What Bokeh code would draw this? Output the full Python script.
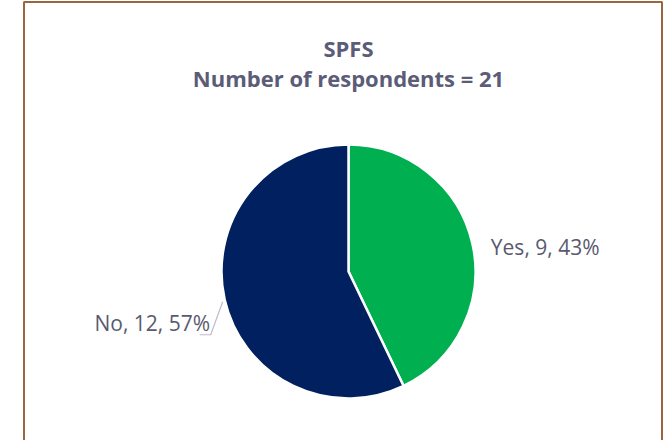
import math
from bokeh.plotting import figure
from bokeh.models import Range1d, Label, BoxAnnotation, ColumnDataSource
from bokeh.embed import file_html
from bokeh.resources import INLINE

# ---- data ----
categories = ["Yes", "No"]
counts = [9, 12]
colors = ["#00B050", "#002060"]
title_lines = ["SPFS", "Number of respondents = 21"]

total = sum(counts)
pcts = [round(100 * c / total) for c in counts]

W, H = 663, 440
p = figure(width=W, height=H, output_backend="svg", toolbar_location=None,
           x_range=Range1d(0, W), y_range=Range1d(448 - H, 448),
           min_border=0, min_border_left=0, min_border_right=0,
           min_border_top=0, min_border_bottom=0)
p.axis.visible = False
p.grid.visible = False
p.outline_line_color = None
p.background_fill_color = "white"
p.border_fill_color = "white"

# image y (from top) -> data y
def py(y):
    return 448 - y

# outer chart border
p.add_layout(BoxAnnotation(left=23.5, right=661.5, top=py(1.5), bottom=-20,
                           fill_alpha=0, line_color="#9A6540", line_alpha=1.0,
                           line_width=2))

# pie
cx, cy, r = 348, py(271), 127
starts, ends, mids = [], [], []
a = math.pi / 2
for c in counts:
    sweep = 2 * math.pi * c / total
    starts.append(a)
    ends.append(a - sweep)
    mids.append(a - sweep / 2)
    a -= sweep

src = ColumnDataSource(dict(cat=categories, start=starts, end=ends, color=colors))
p.wedge(x=cx, y=cy, radius=r, start_angle="start", end_angle="end",
        direction="clock", fill_color="color", line_color="white",
        line_width=2.5, source=src)

# title
title_color = "#5B5C78"
for i, (txt, base) in enumerate(zip(title_lines, [47, 77])):
    p.add_layout(Label(x=cx, y=py(base), text=txt, text_align="center",
                       text_baseline="alphabetic", text_font="Open Sans",
                       text_font_style="bold", text_font_size="22px",
                       text_color=title_color))

# data labels
label_color = "#595A70"
label_r = [146, 142]
for i, (cat, cnt, pc, m) in enumerate(zip(categories, counts, pcts, mids)):
    lx = cx + label_r[i] * math.cos(m)
    ly = cy + label_r[i] * math.sin(m)
    align = "left" if math.cos(m) >= 0 else "right"
    if align == "right":
        ly -= 12
    p.add_layout(Label(x=lx, y=ly - 8, text=f"{cat}, {cnt}, {pc}%",
                       text_align=align, text_baseline="alphabetic",
                       text_font="Open Sans", text_font_size="21px",
                       text_color=label_color))

# leader line for the "No" label
m = mids[1]
ex, ey = cx + r * math.cos(m), cy + r * math.sin(m)
p.line(x=[ex - 2, ex - 14, ex - 25], y=[ey - 2, ey - 35, ey - 35],
       line_color="#BDBBCB", line_width=1.2)

open("out.html", "w").write(file_html(p, INLINE))
